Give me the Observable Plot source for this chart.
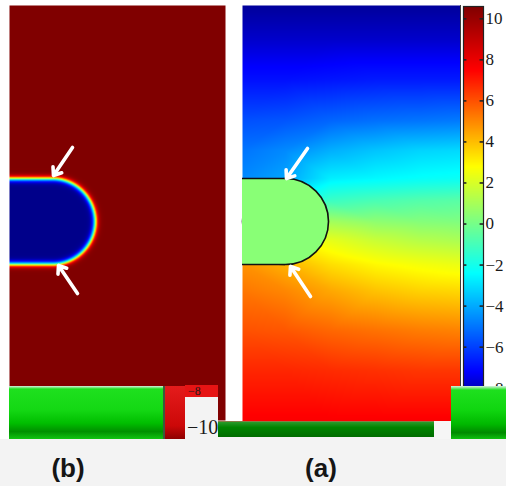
<!DOCTYPE html>
<html>
<head>
<meta charset="utf-8">
<script src="https://cdn.jsdelivr.net/npm/d3@7"></script>
<script src="https://cdn.jsdelivr.net/npm/@observablehq/plot@0.6"></script>
<style>
  html, body { margin: 0; padding: 0; background: #fff; }
  #figure { position: relative; width: 506px; height: 439px; background: #fff; overflow: hidden; }
  .layer { position: absolute; }
  .layer svg { display: block; overflow: visible; }
  #colorbar svg text { font-family: "Liberation Serif", "DejaVu Serif", serif !important; font-size: 17px !important; fill: #1a1a1a; }
  .patch { position: absolute; overflow: hidden; }
  .serif { font-family: "Liberation Serif", "DejaVu Serif", serif; color: #1a1a1a; white-space: nowrap; }
  #captions { position: relative; width: 506px; height: 47px; background: #f3f3f3;
    font-family: "Liberation Sans", Arial, sans-serif; font-weight: bold; font-size: 26px; color: #151515; }
  #captions span { position: absolute; top: 16px; line-height: 26px; transform: translateX(-50%); }
</style>
</head>
<body>
<div id="figure">
  <div class="layer" id="panel-b" style="left:9px;top:5px"></div>
  <div class="layer" id="panel-a" style="left:242px;top:5px"></div>
  <div class="patch" style="left:460px;top:5px;width:1px;height:416px;background:#3c3c3c"></div>
  <div class="layer" id="colorbar" style="left:463px;top:0px"></div>

  <!-- torn strips along the lower edge of the figure -->
  <div class="patch" style="left:9px;top:386px;width:154px;height:53px;
       background:linear-gradient(to bottom,#d8f0e0 0px,#1ee01e 3px,#14d814 45%,#00be00 70%,#009000 86%,#12c412 100%)"></div>
  <div class="patch" style="left:163px;top:386px;width:2px;height:53px;background:#3d5a3d"></div>
  <div class="patch" style="left:165px;top:386px;width:20px;height:53px;
       background:linear-gradient(to bottom,#e41c1c,#cc0808 75%,#8e0000)"></div>
  <div class="patch serif" style="left:185px;top:385px;width:33px;height:12px;background:#e61414">
    <span style="position:absolute;left:3px;top:0px;font-size:12px;line-height:12px">−8</span>
  </div>
  <div class="patch serif" style="left:185px;top:397px;width:33px;height:42px;background:#f3f3f3">
    <span style="position:absolute;left:2px;top:20px;font-size:20px;line-height:20px">−10</span>
  </div>
  <div class="patch" style="left:218px;top:421px;width:216px;height:16px;
       background:linear-gradient(to bottom,#e06060 0px,#2a9a2a 1px,#008400 40%,#006c00 100%)"></div>
  <div class="patch" style="left:218px;top:437px;width:216px;height:2px;background:#f3f3f3"></div>
  <div class="patch" style="left:434px;top:421px;width:17px;height:18px;background:#f6f6f6"></div>
  <div class="patch" style="left:451px;top:386px;width:55px;height:53px;
       background:linear-gradient(to bottom,#d8f0e0 0px,#1ee01e 4px,#10d610 45%,#00b800 72%,#008a00 88%,#10c010 100%)"></div>
</div>
<div id="captions"><span style="left:68px">(b)</span><span style="left:321px">(a)</span></div>

<script>
// Shared colour map (value stops)
const stopValues = [-8.6, -7.2, -2.4, 2.8, 7.5, 10.6];
const stopColors = ["#00008a", "#0000ff", "#00ffff", "#ffff00", "#ff0000", "#800000"];
const colorTicks = [-8, -6, -4, -2, 0, 2, 4, 6, 8, 10];

// Droplet (capsule touching the left wall), in panel pixel units
const capsule = {cx: 43, cy: 216, r: 43, v: 0.4};

// Potential field of panel (a), sampled on a coarse grid
const fieldCols = [0, 43, 88, 133, 178, 218];
const fieldRows = [0, 35, 75, 115, 145, 173, 195, 216, 235, 259, 285, 325, 365, 416];
const fieldValues = [
  [-8.4, -8.4, -8.4, -8.4, -8.4, -8.4],
  [-7.8, -7.8, -7.8, -7.8, -7.8, -7.8],
  [-6.9, -6.9, -6.8, -6.7, -6.7, -6.7],
  [-5.7, -5.6, -5.3, -5.1, -5.0, -4.9],
  [-5.0, -4.6, -3.9, -3.5, -3.2, -3.1],
  [-4.6, -4.1, -2.7, -2.5, -2.3, -2.2],
  [-3.0, -2.5, -1.2, -0.9, -0.7, -0.6],
  [ 0.0,  0.0,  0.9,  0.5,  0.3,  0.2],
  [ 3.0,  2.5,  2.3,  1.7,  1.3,  1.1],
  [ 4.8,  4.2,  3.4,  2.9,  2.6,  2.4],
  [ 5.3,  5.0,  4.4,  3.9,  3.6,  3.5],
  [ 6.0,  5.9,  5.6,  5.4,  5.2,  5.1],
  [ 6.8,  6.8,  6.7,  6.6,  6.5,  6.5],
  [ 7.6,  7.6,  7.6,  7.6,  7.6,  7.6]
];

// Arrows pointing at the interface
const arrowsB = [
  {x1: 63, y1: 142, x2: 44, y2: 170},
  {x1: 68, y1: 288, x2: 49, y2: 260}
];
const arrowsA = [
  {x1: 65, y1: 143, x2: 44, y2: 173},
  {x1: 68, y1: 291, x2: 48, y2: 261}
];

const interfaceWidth = 2.9;

const color = {type: "linear", domain: stopValues, range: stopColors, interpolate: d3.interpolateRgb, clamp: true};

function capsuleDistance(x, y, c) {
  if (x <= c.cx) return Math.abs(y - c.cy) - c.r;
  return Math.hypot(x - c.cx, y - c.cy) - c.r;
}

const fieldSamples = fieldRows.flatMap((y, i) => fieldCols.map((x, j) => ({x, y, v: fieldValues[i][j]})));

function arrowMarks(arrows) {
  return Plot.arrow(arrows, {
    x1: "x1", y1: "y1", x2: "x2", y2: "y2",
    stroke: "white", strokeWidth: 3.6, headLength: 3.6, headAngle: 75
  });
}

// Panel (b): phase field of the droplet
{
  const W = 216, H = 415;
  const lo = stopValues[0], hi = stopValues[stopValues.length - 1];
  const mid = (lo + hi) / 2, half = (hi - lo) / 2;
  const plot = Plot.plot({
    width: W, height: H, margin: 0,
    x: {domain: [0, W], axis: null},
    y: {domain: [0, H], reverse: true, axis: null},
    color,
    marks: [
      Plot.raster({
        x1: 0, x2: W, y1: 0, y2: H,
        fill: (x, y) => mid + half * Math.tanh(capsuleDistance(x, y, capsule) / interfaceWidth)
      }),
      arrowMarks(arrowsB)
    ]
  });
  document.getElementById("panel-b").append(plot);
}

// Panel (a): potential field around the droplet
{
  const W = 218, H = 416;
  const plot = Plot.plot({
    width: W, height: H, margin: 0,
    x: {domain: [0, W], axis: null},
    y: {domain: [0, H], reverse: true, axis: null},
    color,
    marks: [
      Plot.raster(fieldSamples, {
        x: "x", y: "y", fill: "v", interpolate: "barycentric",
        x1: 0, x2: W, y1: 0, y2: H
      }),
      Plot.dot([capsule], {x: "cx", y: "cy", r: capsule.r, fill: "v", stroke: "#111", strokeWidth: 1.6}),
      Plot.rect([capsule], {x1: d => d.cx - d.r, x2: "cx", y1: d => d.cy - d.r, y2: d => d.cy + d.r, fill: "v"}),
      Plot.ruleY([capsule], {y: d => d.cy - d.r, x1: d => d.cx - d.r, x2: "cx", stroke: "#111", strokeWidth: 1.6}),
      Plot.ruleY([capsule], {y: d => d.cy + d.r, x1: d => d.cx - d.r, x2: "cx", stroke: "#111", strokeWidth: 1.6}),
      arrowMarks(arrowsA)
    ]
  });
  document.getElementById("panel-a").append(plot);
}

// Colour bar
{
  const lo = stopValues[0], hi = stopValues[stopValues.length - 1];
  const plot = Plot.plot({
    width: 43, height: 439,
    marginLeft: 0, marginRight: 23, marginTop: 6, marginBottom: 39,
    x: {domain: [0, 1], axis: null},
    y: {domain: [lo, hi]},
    color,
    style: {fontFamily: "Liberation Serif, serif", fontSize: "17px", color: "#1a1a1a", background: "transparent"},
    marks: [
      Plot.raster({x1: 0, x2: 1, y1: lo, y2: hi, fill: (x, y) => y}),
      Plot.ruleY(colorTicks, {x1: 0, x2: 0.17, stroke: "#222", strokeWidth: 1.6}),
      Plot.ruleY(colorTicks, {x1: 0.83, x2: 1, stroke: "#222", strokeWidth: 1.6}),
      Plot.frame({stroke: "#222", strokeWidth: 1.2}),
      Plot.axisY({
        anchor: "right", ticks: colorTicks, tickSize: 0, tickPadding: 2, label: null,
        fontSize: 17, fontFamily: "Liberation Serif, serif"
      })
    ]
  });
  document.getElementById("colorbar").append(plot);
}
</script>
</body>
</html>
